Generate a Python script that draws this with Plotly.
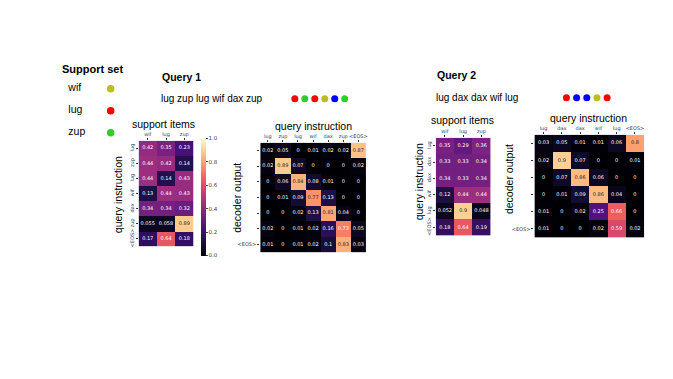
import plotly.graph_objects as go

W, H = 673, 379
OX, OY = 8, 8  # the page body adds an 8px margin

# colours of the output symbols
sym_color = {"wif": "#bcbd22", "lug": "#ff0000", "zup": "#2ecc2e", "dax": "#0000ff"}

support_words = ["wif", "lug", "zup"]

# query 1
q1_query = ["lug", "zup", "lug", "wif", "dax", "zup"]
q1_rows = q1_query + ["<EOS>"]
q1_support = [
    [0.42, 0.35, 0.23],
    [0.44, 0.42, 0.14],
    [0.44, 0.14, 0.43],
    [0.13, 0.44, 0.43],
    [0.34, 0.34, 0.32],
    [0.055, 0.058, 0.89],
    [0.17, 0.64, 0.18],
]
q1_out = ["lug", "zup", "lug", "wif", "dax", "zup"]
q1_cols = q1_query + ["<EOS>"]
q1_decoder = [
    [0.02, 0.05, 0, 0.01, 0.02, 0.02, 0.87],
    [0.02, 0.89, 0.07, 0, 0, 0, 0.02],
    [0, 0.06, 0.84, 0.08, 0.01, 0, 0],
    [0, 0.01, 0.09, 0.77, 0.13, 0, 0],
    [0, 0, 0.02, 0.13, 0.81, 0.04, 0],
    [0.02, 0, 0.01, 0.02, 0.16, 0.73, 0.05],
    [0.01, 0, 0.01, 0.02, 0.1, 0.83, 0.03],
]

# query 2
q2_query = ["lug", "dax", "dax", "wif", "lug"]
q2_rows = q2_query + ["<EOS>"]
q2_support = [
    [0.35, 0.29, 0.36],
    [0.33, 0.33, 0.34],
    [0.34, 0.33, 0.34],
    [0.12, 0.44, 0.44],
    [0.052, 0.9, 0.048],
    [0.18, 0.64, 0.19],
]
q2_out = ["lug", "dax", "dax", "wif", "lug"]
q2_cols = q2_query + ["<EOS>"]
q2_decoder = [
    [0.03, 0.05, 0.01, 0.01, 0.06, 0.8],
    [0.02, 0.9, 0.07, 0, 0, 0.01],
    [0, 0.07, 0.86, 0.06, 0, 0],
    [0, 0.01, 0.09, 0.86, 0.04, 0],
    [0.01, 0, 0.02, 0.25, 0.66, 0],
    [0.01, 0, 0, 0.02, 0.59, 0.02],
]

SANS = "Liberation Sans, Arial, sans-serif"
SMALL = "DejaVu Sans, sans-serif"


def px_x(a, b):
    return [(a - OX) / W, (b - OX) / W]


def px_y(top, bottom):
    return [1 - (bottom - OY) / H, 1 - (top - OY) / H]


fig = go.Figure()
layout = {}


def heat(n, z, cols, rows, xdom, ydom, row_angle=-90, showscale=False):
    suf = "" if n == 1 else str(n)
    fig.add_trace(go.Heatmap(
        z=z, x=list(range(len(cols))), y=list(range(len(rows))),
        colorscale="Magma", zmin=0, zmax=1, showscale=showscale,
        xaxis="x" + suf, yaxis="y" + suf,
        colorbar=dict(x=(202 - OX) / W, xanchor="left", xpad=0, ypad=0,
                      y=1 - (197.5 - OY) / H, yanchor="middle",
                      lenmode="pixels", len=117, thickness=5, outlinewidth=0,
                      tickvals=[0, 0.2, 0.4, 0.6, 0.8, 1.0], tickformat=".1f",
                      ticks="outside", ticklen=2, tickwidth=0.6,
                      tickfont=dict(family=SMALL, size=5.5)),
        hoverinfo="skip",
    ))
    # cell values
    xs, ys, txt, col = [], [], [], []
    for i, row in enumerate(z):
        for j, v in enumerate(row):
            xs.append(j)
            ys.append(i)
            txt.append(f"{v:.2g}")
            col.append("#222222" if v >= 0.76 else "white")
    fig.add_trace(go.Scatter(
        x=xs, y=ys, mode="text", text=txt,
        textfont=dict(family=SMALL, size=5, color=col),
        xaxis="x" + suf, yaxis="y" + suf, showlegend=False, hoverinfo="skip",
    ))
    layout["xaxis" + suf] = dict(
        domain=px_x(*xdom), anchor="y" + suf, side="top",
        range=[-0.5, len(cols) - 0.5], tickvals=list(range(len(cols))), ticktext=cols,
        tickangle=0, ticks="outside", ticklen=2, tickwidth=0.6, tickcolor="#333",
        tickfont=dict(family=SMALL, size=5), showgrid=False, zeroline=False, fixedrange=True,
    )
    layout["yaxis" + suf] = dict(
        domain=px_y(*ydom), anchor="x" + suf,
        range=[len(rows) - 0.5, -0.5], tickvals=list(range(len(rows))), ticktext=rows,
        tickangle=row_angle, ticks="outside", ticklen=2, tickwidth=0.6, tickcolor="#333",
        tickfont=dict(family=SMALL, size=5), showgrid=False, zeroline=False, fixedrange=True,
    )


heat(1, q1_support, support_words, q1_rows, (139, 194), (141, 247), showscale=True)
heat(2, q1_decoder, q1_cols, [""] * len(q1_out) + ["<EOS>"], (261, 367), (143, 253), row_angle=0)
heat(3, q2_support, support_words, q2_rows, (437, 492), (138, 236))
heat(4, q2_decoder, q2_cols, [""] * len(q2_out) + ["<EOS>"], (536, 646), (135, 238), row_angle=0)

# coloured row symbols of the decoder heatmaps
for suf, outs in (("2", q1_out), ("4", q2_out)):
    fig.add_trace(go.Scatter(
        x=[-1.15] * len(outs), y=list(range(len(outs))), mode="markers",
        marker=dict(size=7, color=[sym_color[w] for w in outs]),
        cliponaxis=False, showlegend=False, hoverinfo="skip",
        xaxis="x" + suf, yaxis="y" + suf,
    ))

hidden = dict(visible=False, fixedrange=True, showgrid=False, zeroline=False)

# support set legend
fig.add_trace(go.Scatter(
    x=[0] * 3, y=list(range(3)), mode="text", text=support_words, textposition="middle right",
    textfont=dict(family=SANS, size=10.5, color="black"),
    showlegend=False, hoverinfo="skip", xaxis="x5", yaxis="y5", cliponaxis=False,
))
fig.add_trace(go.Scatter(
    x=[1] * 3, y=list(range(3)), mode="markers",
    marker=dict(size=7.5, color=[sym_color[w] for w in support_words]),
    showlegend=False, hoverinfo="skip", xaxis="x5", yaxis="y5", cliponaxis=False,
))
layout["xaxis5"] = dict(domain=px_x(60, 125), anchor="y5", range=[-0.2, 1.33], **hidden)
layout["yaxis5"] = dict(domain=px_y(80, 142), anchor="x5", range=[2.4, -0.4], **hidden)

# query output sequences
for suf, outs, xd, yc in (("6", q1_out, (290.7, 350.7), 99), ("7", q2_out, (563, 614), 98)):
    fig.add_trace(go.Scatter(
        x=list(range(len(outs))), y=[0] * len(outs), mode="markers",
        marker=dict(size=7, color=[sym_color[w] for w in outs]),
        showlegend=False, hoverinfo="skip", xaxis="x" + suf, yaxis="y" + suf, cliponaxis=False,
    ))
    layout["xaxis" + suf] = dict(domain=px_x(*xd), anchor="y" + suf,
                                 range=[-0.5, len(outs) - 0.5], **hidden)
    layout["yaxis" + suf] = dict(domain=px_y(yc - 6, yc + 6), anchor="x" + suf,
                                 range=[-1, 1], **hidden)


def note(text, x, y, size=10.5, bold=False, xanchor="center", angle=0):
    fig.add_annotation(
        text=f"<b>{text}</b>" if bold else text, x=(x - OX) / W, y=1 - (y - OY) / H,
        xref="paper", yref="paper", xanchor=xanchor, yanchor="middle",
        showarrow=False, textangle=angle, font=dict(family=SANS, size=size, color="black"),
    )


note("Support set", 93, 69, size=11, bold=True)
note("Query 1", 160, 77, size=10.5, bold=True, xanchor="left")
note("Query 2", 436, 75, size=10.5, bold=True, xanchor="left")
note(" ".join(q1_query), 159, 99, size=10, xanchor="left")
note(" ".join(q2_query), 435, 98, size=10, xanchor="left")

note("support items", 164, 124)
note("query instruction", 118, 195, angle=-90)
note("query instruction", 314, 126)
note("decoder output", 238, 198, angle=-90)
note("support items", 464, 120)
note("query instruction", 420, 182, angle=-90)
note("query instruction", 590, 118)
note("decoder output", 510, 180, angle=-90)

fig.update_layout(
    width=W, height=H, margin=dict(l=0, r=0, t=0, b=0),
    paper_bgcolor="white", plot_bgcolor="white", showlegend=False,
    **layout,
)

fig.write_html("out.html")
